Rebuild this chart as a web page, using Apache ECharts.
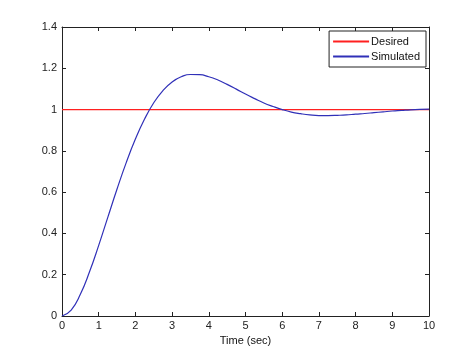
<!DOCTYPE html>
<html><head><meta charset="utf-8">
<script src="https://cdn.jsdelivr.net/npm/echarts@6/dist/echarts.min.js"></script>
<style>html,body{margin:0;padding:0;background:#fff}#c{width:474px;height:355px}</style>
</head><body><div id="c"></div>
<script>
const timeSec = [0,0.25,0.5,0.75,1,1.25,1.5,1.75,2,2.25,2.5,2.75,3,3.25,3.5,3.75,4,4.25,4.5,4.75,5,5.25,5.5,5.75,6,6.25,6.5,6.75,7,7.25,7.5,7.75,8,8.25,8.5,8.75,9,9.25,9.5,9.75,10];
const simulated = [0,0.029,0.105,0.214,0.342,0.479,0.615,0.743,0.857,0.954,1.033,1.092,1.134,1.159,1.170,1.169,1.159,1.143,1.122,1.099,1.075,1.053,1.032,1.015,1.000,0.988,0.980,0.974,0.971,0.971,0.972,0.974,0.978,0.981,0.985,0.989,0.993,0.996,0.999,1.001,1.002];
const desiredT = [0,10];
const desired = [1,1];
const seriesNames = ['Desired','Simulated'];
const xLabel = 'Time (sec)';

const red = '#ff2020', blue = '#3030b8';
const chart = echarts.init(document.getElementById('c'));
const font = 'Liberation Sans, Arial, sans-serif';
const axisLine = {show:true, onZero:false, lineStyle:{color:'#222', width:1}};
const tickIn = {show:true, inside:true, length:4, lineStyle:{color:'#222'}};
chart.setOption({
  animation:false,
  backgroundColor:'#fff',
  grid:{left:62, right:45, top:27, bottom:39},
  legend:{
    data:[{name:seriesNames[0]},{name:seriesNames[1]}],
    icon:'rect',
    orient:'vertical', right:48, top:31,
    itemWidth:36, itemHeight:2, itemGap:4,
    backgroundColor:'#fff', borderColor:'#222', borderWidth:1, borderRadius:0,
    padding:[5,6,5,4],
    textStyle:{fontFamily:font, fontSize:11, color:'#111', padding:[0,0,0,-3]}
  },
  xAxis:[{
    type:'value', min:0, max:10, interval:1,
    name:xLabel, nameLocation:'middle', nameGap:18,
    nameTextStyle:{fontFamily:font, fontSize:11, color:'#111'},
    axisLine:axisLine, axisTick:tickIn, splitLine:{show:false},
    axisLabel:{fontFamily:font, fontSize:11, color:'#222', margin:4}
  },{
    type:'value', position:'top', min:0, max:10, interval:1,
    axisLine:axisLine, axisTick:tickIn, splitLine:{show:false}, axisLabel:{show:false}
  }],
  yAxis:[{
    type:'value', min:0, max:1.4, interval:0.2,
    axisLine:axisLine, axisTick:tickIn, splitLine:{show:false},
    axisLabel:{fontFamily:font, fontSize:11, color:'#222', margin:5}
  },{
    type:'value', position:'right', min:0, max:1.4, interval:0.2,
    axisLine:axisLine, axisTick:tickIn, splitLine:{show:false}, axisLabel:{show:false}
  }],
  series:[{
    name:seriesNames[0], type:'line', symbol:'none', color:red,
    data:desiredT.map((t,i)=>[t,desired[i]]),
    lineStyle:{color:red, width:1.3}, itemStyle:{color:red}
  },{
    name:seriesNames[1], type:'line', symbol:'none', smooth:true, color:blue,
    data:timeSec.map((t,i)=>[t,simulated[i]]),
    lineStyle:{color:blue, width:1.2}, itemStyle:{color:blue}
  }]
});
</script></body></html>
